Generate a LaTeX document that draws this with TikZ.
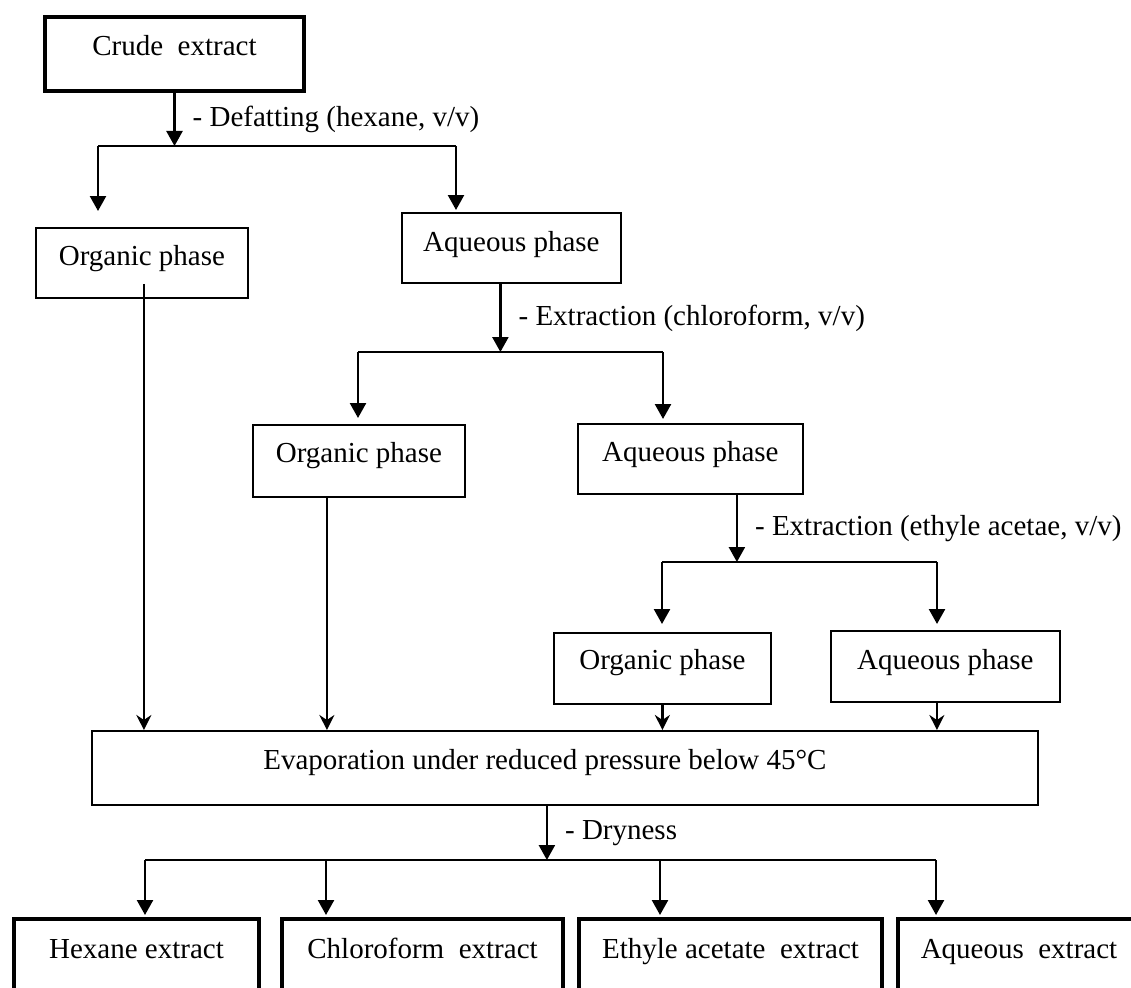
\documentclass[tikz,border=0pt]{standalone}
\usepackage{fontspec}
\setmainfont{Liberation Serif}
\usetikzlibrary{arrows.meta}
\newcommand\fs{\fontsize{29pt}{34pt}\selectfont}
\begin{document}
\begin{tikzpicture}[x=1pt,y=-1pt,
  bx/.style n args={3}{draw, line width=1.8pt, anchor=north west, inner sep=0pt,
     minimum width=#1pt, text height=#2pt, text depth=#3pt, font=\fs},
  thick box/.style={line width=4pt},
  lab/.style={anchor=west, inner sep=0pt, xshift=17pt, font=\fs},
  arrA/.style={line width=2.4pt, -{Triangle[length=15pt,width=16pt]}},
  arrB/.style={line width=2.4pt, -{Stealth[length=15pt,width=15pt,inset=5pt]}},
  hl/.style={line width=2pt}]
\useasboundingbox (0,0) rectangle (1131,987);
\clip (0,0) rectangle (1131,987);
\fill[white] (0,0) rectangle (1131,987);

% boxes
\node[bx={259}{39}{35}, thick box] (crude) at (43,15) {Crude~ extract};
\node[bx={212}{38}{32}] (org1) at (35,227) {Organic phase};
\node[bx={219}{39}{31}] (aq1) at (401,212) {Aqueous phase};
\node[bx={212}{38}{34}] (org2) at (252,424) {Organic phase};
\node[bx={225}{38}{32}] (aq2) at (577,423) {Aqueous phase};
\node[bx={217}{37}{34}] (org3) at (553,632) {Organic phase};
\node[bx={229}{39}{32}] (aq3) at (830,630) {Aqueous phase};
\node[bx={946}{39}{35}] (evap) at (91,730) {Evaporation under reduced pressure below 45°C\kern40pt};
\node[bx={245}{39}{80}, thick box] (hex) at (12,917) {Hexane extract};
\node[bx={281}{39}{80}, thick box] (chl) at (280,917) {Chloroform~ extract};
\node[bx={303}{39}{80}, thick box] (eth) at (577,917) {Ethyle acetate~ extract};
\node[bx={242}{39}{80}, thick box] (aqx) at (896,917) {Aqueous~ extract};

% level 1
\coordinate (s1L) at (98,146);
\coordinate (s1R) at (456,146);
\coordinate (s1) at (crude.south |- s1L);
\draw[arrA] (crude.south) -- node[lab] {- Defatting (hexane, v/v)} (s1);
\draw[hl] (s1L) -- (s1R);
\draw[arrA, shorten >=16pt] (s1L) -- (s1L |- org1.north);
\draw[arrA, shorten >=2pt] (s1R) -- (s1R |- aq1.north);

% level 2
\coordinate (a1b) at ([xshift=-11pt]aq1.south);
\coordinate (s2L) at (358,352);
\coordinate (s2R) at (663,352);
\coordinate (s2) at (a1b |- s2L);
\draw[arrA] (a1b) -- node[lab] {- Extraction (chloroform, v/v)} (s2);
\draw[hl] (s2L) -- (s2R);
\draw[arrA, shorten >=6pt] (s2L) -- (s2L |- org2.north);
\draw[arrA, shorten >=4pt] (s2R) -- (s2R |- aq2.north);

% level 3
\coordinate (a2b) at ([xshift=46.5pt]aq2.south);
\coordinate (s3L) at (662,562);
\coordinate (s3R) at (937,562);
\coordinate (s3) at (a2b |- s3L);
\draw[arrA] (a2b) -- node[lab] {- Extraction (ethyle acetae, v/v)} (s3);
\draw[hl] (s3L) -- (s3R);
\draw[arrA, shorten >=8pt] (s3L) -- (s3L |- org3.north);
\draw[arrA, shorten >=6pt] (s3R) -- (s3R |- aq3.north);

% to evaporation
\coordinate (o1s) at ([xshift=2pt,yshift=15pt]org1.south);
\coordinate (o2s) at ([xshift=-32pt]org2.south);
\coordinate (a3s) at ([xshift=-8.5pt]aq3.south);
\draw[arrB] (o1s) -- (o1s |- evap.north);
\draw[arrB] (o2s) -- (o2s |- evap.north);
\draw[arrB] (org3.south) -- (org3.south |- evap.north);
\draw[arrB] (a3s) -- (a3s |- evap.north);

% dryness
\coordinate (eb) at ([xshift=-18pt]evap.south);
\coordinate (s4a) at (145,860);
\coordinate (s4b) at (326,860);
\coordinate (s4c) at (660,860);
\coordinate (s4d) at (936,860);
\coordinate (s4) at (eb |- s4a);
\draw[arrA] (eb) -- node[lab] {- Dryness} (s4);
\draw[hl] (s4a) -- (s4d);
\draw[arrA, shorten >=2pt] (s4a) -- (s4a |- hex.north);
\draw[arrA, shorten >=2pt] (s4b) -- (s4b |- chl.north);
\draw[arrA, shorten >=2pt] (s4c) -- (s4c |- eth.north);
\draw[arrA, shorten >=2pt] (s4d) -- (s4d |- aqx.north);
\end{tikzpicture}
\end{document}
